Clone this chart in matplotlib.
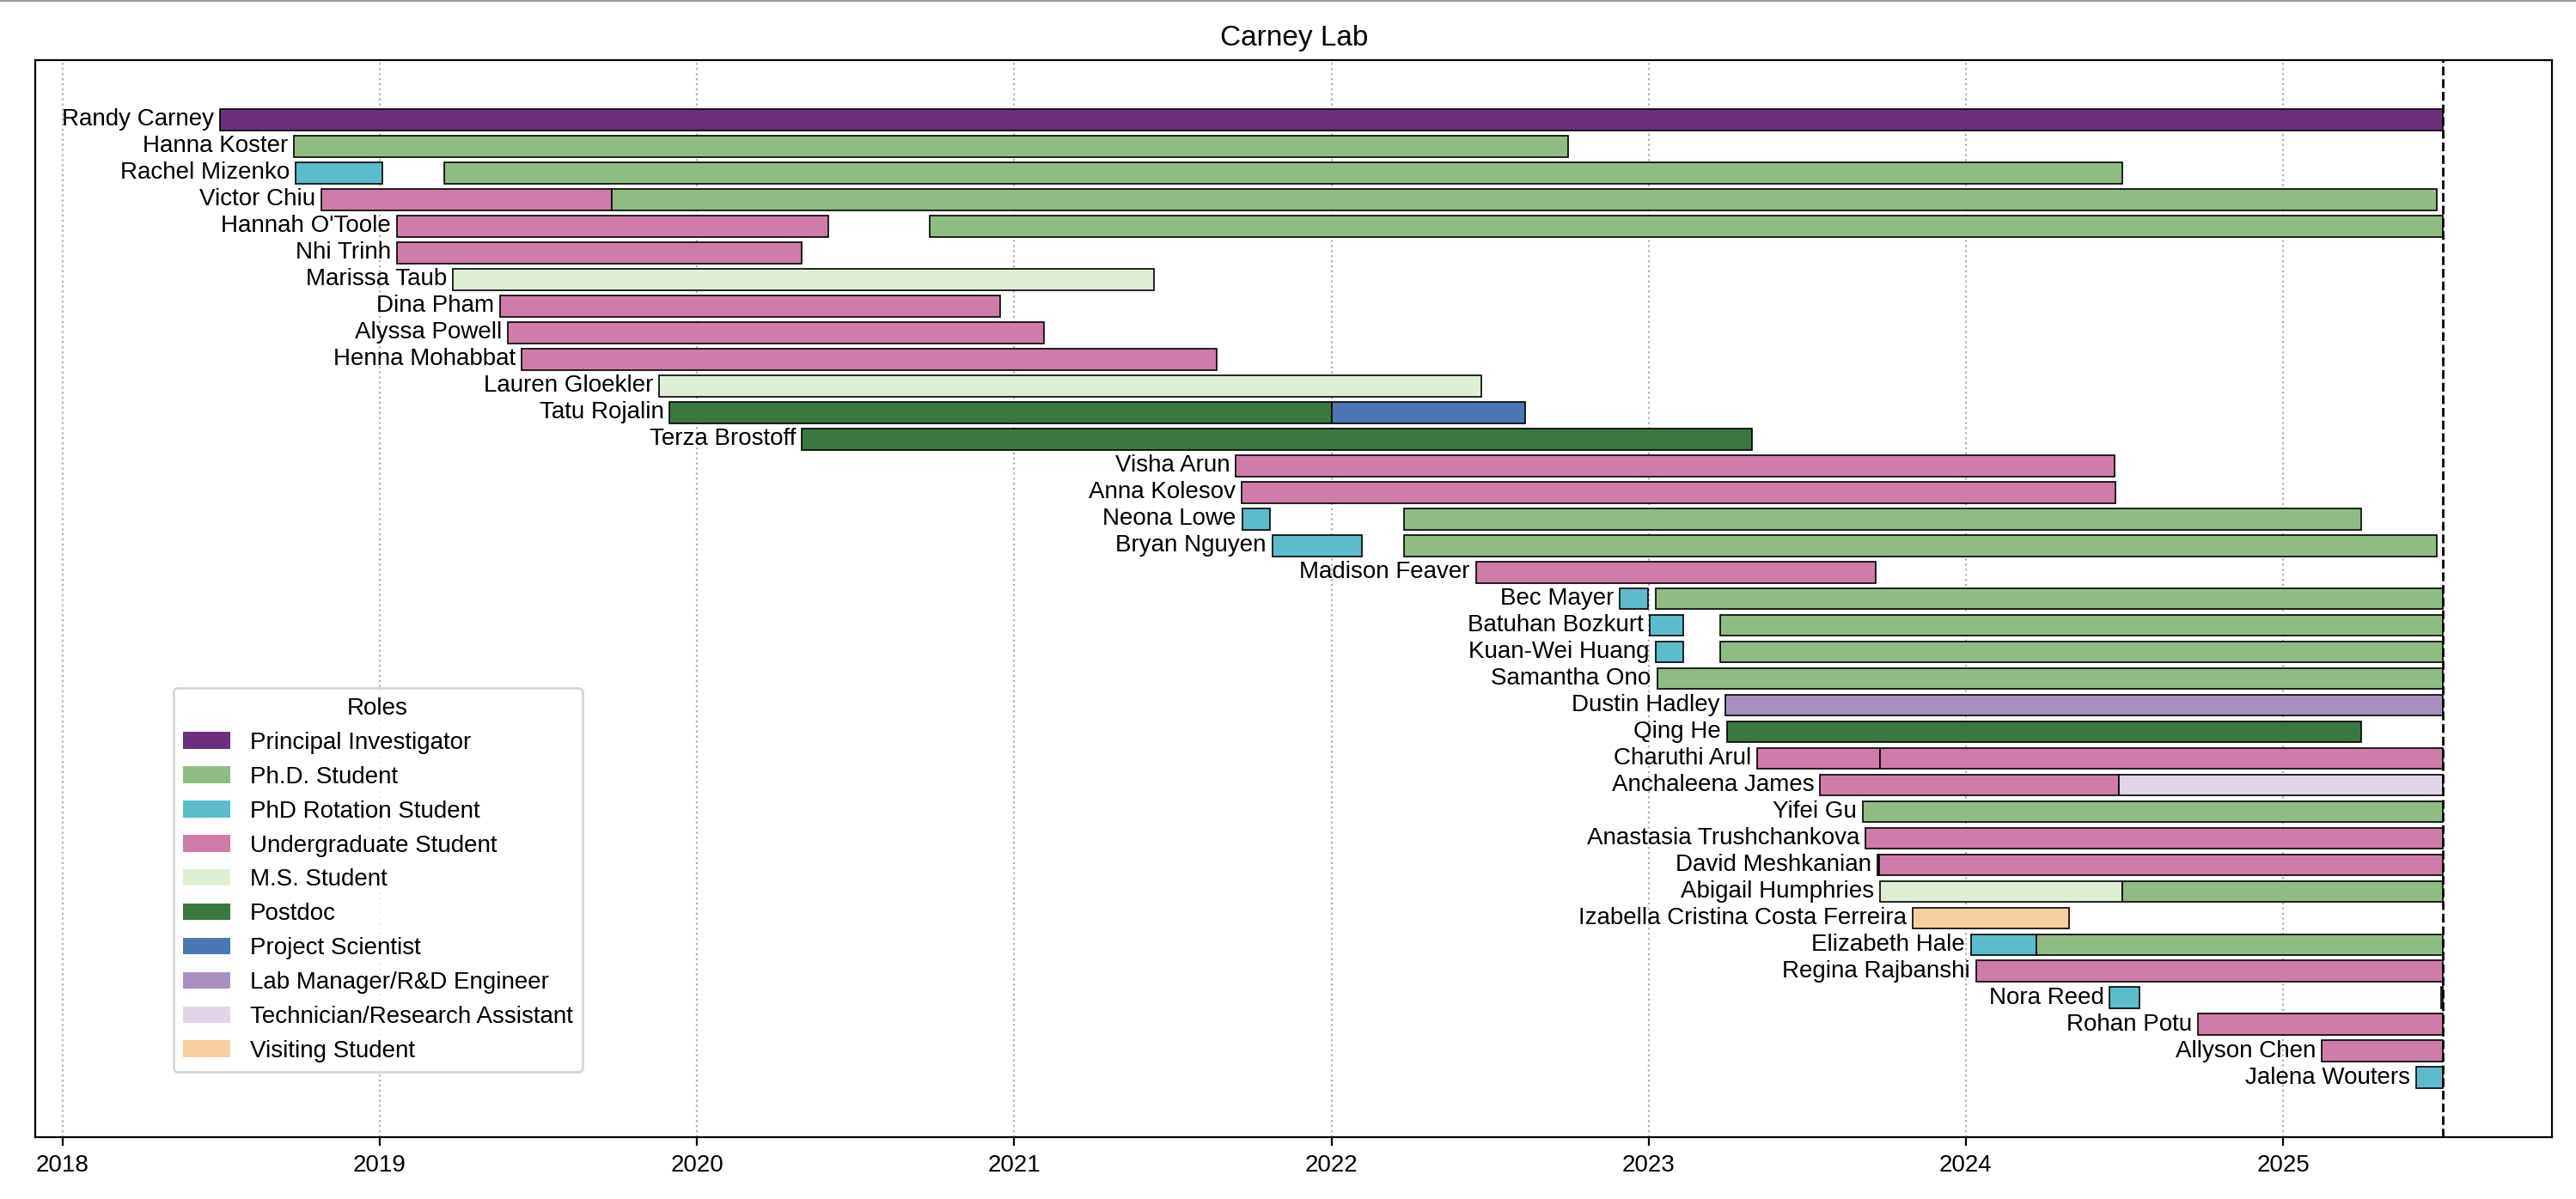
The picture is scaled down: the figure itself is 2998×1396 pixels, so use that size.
import matplotlib
matplotlib.use("Agg")
import matplotlib.pyplot as plt
from matplotlib.patches import Patch
from matplotlib.lines import Line2D

plt.rcParams['font.family'] = ['Liberation Sans', 'DejaVu Sans']

# people, top to bottom
names = [
    "Randy Carney", "Hanna Koster", "Rachel Mizenko", "Victor Chiu", "Hannah O'Toole",
    "Nhi Trinh", "Marissa Taub", "Dina Pham", "Alyssa Powell", "Henna Mohabbat",
    "Lauren Gloekler", "Tatu Rojalin", "Terza Brostoff", "Visha Arun", "Anna Kolesov",
    "Neona Lowe", "Bryan Nguyen", "Madison Feaver", "Bec Mayer", "Batuhan Bozkurt",
    "Kuan-Wei Huang", "Samantha Ono", "Dustin Hadley", "Qing He", "Charuthi Arul",
    "Anchaleena James", "Yifei Gu", "Anastasia Trushchankova", "David Meshkanian",
    "Abigail Humphries", "Izabella Cristina Costa Ferreira", "Elizabeth Hale",
    "Regina Rajbanshi", "Nora Reed", "Rohan Potu", "Allyson Chen", "Jalena Wouters",
]

roles = [
    "Principal Investigator", "Ph.D. Student", "PhD Rotation Student",
    "Undergraduate Student", "M.S. Student", "Postdoc", "Project Scientist",
    "Lab Manager/R&D Engineer", "Technician/Research Assistant", "Visiting Student",
]
role_colors = [
    "#6b2f7b", "#8fbc83", "#5dbccc", "#cf7caa", "#deefd6",
    "#3b7840", "#4a76b4", "#a88fc0", "#e2d5e7", "#f6cea0",
]

today = 2025.503

# segments (decimal years)
seg_who = [
    "Randy Carney",
    "Hanna Koster",
    "Rachel Mizenko", "Rachel Mizenko",
    "Victor Chiu", "Victor Chiu",
    "Hannah O'Toole", "Hannah O'Toole",
    "Nhi Trinh",
    "Marissa Taub",
    "Dina Pham",
    "Alyssa Powell",
    "Henna Mohabbat",
    "Lauren Gloekler",
    "Tatu Rojalin", "Tatu Rojalin",
    "Terza Brostoff",
    "Visha Arun",
    "Anna Kolesov",
    "Neona Lowe", "Neona Lowe",
    "Bryan Nguyen", "Bryan Nguyen",
    "Madison Feaver",
    "Bec Mayer", "Bec Mayer",
    "Batuhan Bozkurt", "Batuhan Bozkurt",
    "Kuan-Wei Huang", "Kuan-Wei Huang",
    "Samantha Ono",
    "Dustin Hadley",
    "Qing He",
    "Charuthi Arul", "Charuthi Arul",
    "Anchaleena James", "Anchaleena James",
    "Yifei Gu",
    "Anastasia Trushchankova",
    "David Meshkanian", "David Meshkanian",
    "Abigail Humphries", "Abigail Humphries",
    "Izabella Cristina Costa Ferreira",
    "Elizabeth Hale", "Elizabeth Hale",
    "Regina Rajbanshi",
    "Nora Reed", "Nora Reed",
    "Rohan Potu",
    "Allyson Chen",
    "Jalena Wouters",
]
seg_start = [
    2018.495,
    2018.730,
    2018.734, 2019.202,
    2018.815, 2019.731,
    2019.053, 2020.733,
    2019.053,
    2019.230,
    2019.378,
    2019.403,
    2019.446,
    2019.881,
    2019.914, 2022.000,
    2020.331,
    2021.699,
    2021.717,
    2021.719, 2022.229,
    2021.813, 2022.229,
    2022.456,
    2022.909, 2023.022,
    2023.004, 2023.225,
    2023.022, 2023.225,
    2023.027,
    2023.242,
    2023.247,
    2023.343, 2023.729,
    2023.541, 2024.483,
    2023.676,
    2023.684,
    2023.720, 2023.727,
    2023.730, 2024.494,
    2023.833,
    2024.016, 2024.222,
    2024.032,
    2024.454, 2025.497,
    2024.732,
    2025.122,
    2025.419,
]
seg_end = [
    today,
    2022.747,
    2019.009, 2024.494,
    2019.731, 2025.485,
    2020.415, today,
    2020.329,
    2021.440,
    2020.955,
    2021.093,
    2021.638,
    2022.472,
    2022.000, 2022.610,
    2023.326,
    2024.468,
    2024.473,
    2021.807, 2025.246,
    2022.095, 2025.485,
    2023.717,
    2022.998, today,
    2023.110, today,
    2023.110, today,
    today,
    today,
    2025.246,
    2023.729, today,
    2024.483, today,
    today,
    today,
    2023.727, today,
    2024.494, today,
    2024.326,
    2024.222, today,
    today,
    2024.547, today,
    today,
    today,
    today,
]
seg_role = [
    "Principal Investigator",
    "Ph.D. Student",
    "PhD Rotation Student", "Ph.D. Student",
    "Undergraduate Student", "Ph.D. Student",
    "Undergraduate Student", "Ph.D. Student",
    "Undergraduate Student",
    "M.S. Student",
    "Undergraduate Student",
    "Undergraduate Student",
    "Undergraduate Student",
    "M.S. Student",
    "Postdoc", "Project Scientist",
    "Postdoc",
    "Undergraduate Student",
    "Undergraduate Student",
    "PhD Rotation Student", "Ph.D. Student",
    "PhD Rotation Student", "Ph.D. Student",
    "Undergraduate Student",
    "PhD Rotation Student", "Ph.D. Student",
    "PhD Rotation Student", "Ph.D. Student",
    "PhD Rotation Student", "Ph.D. Student",
    "Ph.D. Student",
    "Lab Manager/R&D Engineer",
    "Postdoc",
    "Undergraduate Student", "Undergraduate Student",
    "Undergraduate Student", "Technician/Research Assistant",
    "Ph.D. Student",
    "Undergraduate Student",
    "Undergraduate Student", "Undergraduate Student",
    "M.S. Student", "Ph.D. Student",
    "Visiting Student",
    "PhD Rotation Student", "Ph.D. Student",
    "Undergraduate Student",
    "PhD Rotation Student", "Ph.D. Student",
    "Undergraduate Student",
    "Undergraduate Student",
    "PhD Rotation Student",
]

years = [2018, 2019, 2020, 2021, 2022, 2023, 2024, 2025]

color_of = dict(zip(roles, role_colors))

fig = plt.figure(figsize=(14.99, 6.98), dpi=200)
ax = fig.add_axes([0.01384, 0.0514, 0.97685, 0.8985])

first_start = {}
for who, s, e, r in zip(seg_who, seg_start, seg_end, seg_role):
    row = names.index(who)
    ax.barh(row, e - s, left=s, height=0.8, color=color_of[r],
            edgecolor='black', linewidth=0.6, zorder=3)
    if who not in first_start or s < first_start[who]:
        first_start[who] = s

for who in names:
    ax.annotate(who, xy=(first_start[who], names.index(who)), xytext=(-2.5, 0),
                textcoords='offset points', ha='right', va='center', fontsize=10)

ax.axvline(today, color='black', linestyle='--', linewidth=1, zorder=4)

ax.set_xlim(2017.915, 2025.848)
ax.set_ylim(len(names) - 1 + 2.24, -2.24)
ax.set_xticks(years)
ax.set_xticklabels([str(y) for y in years], fontsize=10)
ax.set_yticks([])
ax.grid(axis='x', linestyle=':', color='#b0b0b0', linewidth=0.8, zorder=0)
ax.set_title("Carney Lab", fontsize=12)

handles = [Patch(facecolor=c, label=r) for r, c in zip(roles, role_colors)]
ax.legend(handles=handles, title="Roles", loc='lower left',
          bbox_to_anchor=(0.0547, 0.0608), borderaxespad=0, fontsize=10,
          title_fontsize=10)

# thin edge visible on the top and left of the picture
fig.add_artist(Line2D([0, 1], [0.9995, 0.9995], transform=fig.transFigure,
                      color='#888888', linewidth=0.6))

fig.savefig("out.png", dpi=200)
